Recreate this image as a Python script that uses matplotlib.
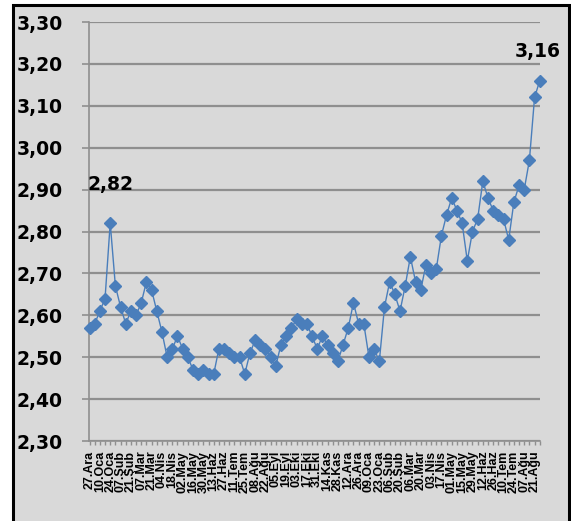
import matplotlib.pyplot as plt
from matplotlib.patches import Rectangle

# weekly values
values = [2.57, 2.58, 2.61, 2.64, 2.82, 2.67, 2.62, 2.58, 2.61, 2.60,
          2.63, 2.68, 2.66, 2.61, 2.56, 2.50, 2.52, 2.55, 2.52, 2.50,
          2.47, 2.46, 2.47, 2.46, 2.46, 2.52, 2.52, 2.51, 2.50, 2.50,
          2.46, 2.51, 2.54, 2.53, 2.52, 2.50, 2.48, 2.53, 2.55, 2.57,
          2.59, 2.58, 2.58, 2.55, 2.52, 2.55, 2.53, 2.51, 2.49, 2.53,
          2.57, 2.63, 2.58, 2.58, 2.50, 2.52, 2.49, 2.62, 2.68, 2.65,
          2.61, 2.67, 2.74, 2.68, 2.66, 2.72, 2.70, 2.71, 2.79, 2.84,
          2.88, 2.85, 2.82, 2.73, 2.80, 2.83, 2.92, 2.88, 2.85, 2.84,
          2.83, 2.78, 2.87, 2.91, 2.90, 2.97, 3.12, 3.16]

# labels shown on every second week
tick_labels = ["27.Ara", "10.Oca", "24.Oca", "07.Şub", "21.Şub", "07.Mar",
               "21.Mar", "04.Nis", "18.Nis", "02.May", "16.May", "30.May",
               "13.Haz", "27.Haz", "11.Tem", "25.Tem", "08.Ağu", "22.Ağu",
               "05.Eyl", "19.Eyl", "03.Eki", "17.Eki", "31.Eki", "14.Kas",
               "28.Kas", "12.Ara", "26.Ara", "09.Oca", "23.Oca", "06.Şub",
               "20.Şub", "06.Mar", "20.Mar", "03.Nis", "17.Nis", "01.May",
               "15.May", "29.May", "12.Haz", "26.Haz", "10.Tem", "24.Tem",
               "07.Ağu", "21.Ağu"]

y_ticks = [2.30, 2.40, 2.50, 2.60, 2.70, 2.80, 2.90, 3.00, 3.10, 3.20, 3.30]

BG = "#d9d9d9"
GRID = "#8f8f8f"
BLUE = "#4a7ebb"
NUM_FONT = dict(fontfamily="DejaVu Sans", fontweight="bold", fontsize=13.5)

fig = plt.figure(figsize=(5.71, 5.21), dpi=100)
fig.patch.set_facecolor("white")
fig.patches.append(Rectangle((13 / 571, -0.05), 555.5 / 571, 1 - 5 / 521 + 0.05,
                             transform=fig.transFigure, facecolor=BG,
                             edgecolor="black", linewidth=2.2, zorder=-5))

ax = fig.add_axes([89 / 571, 1 - 441 / 521, 451 / 571, 419 / 521])
ax.set_facecolor(BG)

x = list(range(len(values)))
ax.plot(x, values, color=BLUE, linewidth=1.0, marker="D", markersize=6.3,
        markerfacecolor=BLUE, markeredgecolor=BLUE, zorder=3, clip_on=False)

ax.set_xlim(-0.1, len(values) - 1 + 0.05)
ax.set_ylim(2.30, 3.30)
ax.set_yticks(y_ticks)
ax.set_yticklabels([f"{v:.2f}".replace(".", ",") for v in y_ticks], **NUM_FONT)
ax.set_xticks(x[::2])
ax.set_xticklabels(tick_labels, rotation=90, fontfamily="Liberation Sans",
                   fontweight="bold", fontsize=9, va="top", ha="center")
ax.set_xticks(x, minor=True)

ax.grid(axis="y", color=GRID, linewidth=1.6, zorder=1)
ax.set_axisbelow(True)
for side in ["top", "right"]:
    ax.spines[side].set_visible(False)
for side in ["left", "bottom"]:
    ax.spines[side].set_color(GRID)
    ax.spines[side].set_linewidth(1.2)

ax.tick_params(axis="y", length=5, width=1.2, color=GRID, pad=14)
ax.tick_params(axis="x", which="both", length=3, width=1.0, color=GRID, pad=4)

# value callouts for the spike and the last point
ax.annotate("2,82", (4, values[4]), xytext=(0, 28), textcoords="offset points",
            ha="center", va="center", **NUM_FONT)
ax.annotate("3,16", (len(values) - 1, values[-1]), xytext=(-1.5, 21),
            textcoords="offset points", ha="center", va="center", **NUM_FONT)

plt.savefig("out.png", dpi=100)
